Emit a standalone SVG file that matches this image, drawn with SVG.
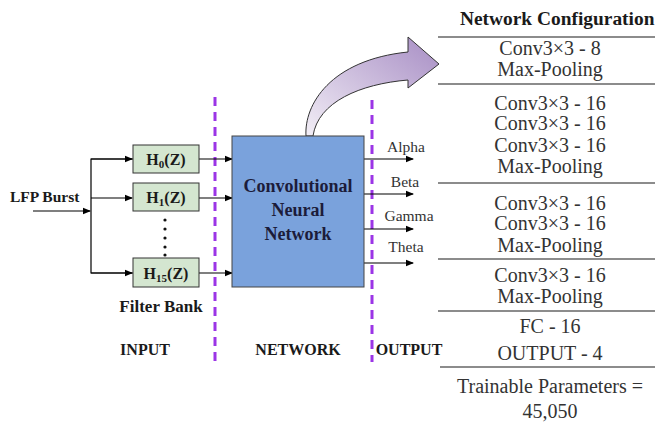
<svg xmlns="http://www.w3.org/2000/svg" width="655" height="424" viewBox="0 0 655 424">
<defs>
<marker id="ah" markerWidth="8" markerHeight="8" refX="7" refY="4" orient="auto" markerUnits="userSpaceOnUse">
<path d="M0,0.8 L8,4 L0,7.2 Z" fill="#000"/>
</marker>
<linearGradient id="pg" x1="0" y1="1" x2="1" y2="0">
<stop offset="0" stop-color="#f2eef6"/>
<stop offset="1" stop-color="#a78dc4"/>
</linearGradient>
<style>
text{font-family:"Liberation Serif","DejaVu Serif","Noto Serif",serif}
.b{font-weight:bold;fill:#1a1a1a}
.r{fill:#333}
.ln{stroke:#000;stroke-width:1.2;fill:none}
.tl{stroke:#666;stroke-width:1.5}
.dash{stroke:#9b35e6;stroke-width:3;stroke-dasharray:9,6}
.fb{fill:#d4e6d0;stroke:#333;stroke-width:1}
</style>
</defs>
<rect width="655" height="424" fill="#fff"/>

<g id="dividers">
<line class="dash" x1="215" y1="97" x2="215" y2="362"/>
<line class="dash" x1="372" y1="100" x2="372" y2="362"/>
</g>

<g id="connectors">
<line class="ln" x1="33" y1="211" x2="90" y2="211" marker-end="url(#ah)"/>
<polyline class="ln" points="133,159 91,159 91,273 133,273"/>
<line class="ln" x1="91" y1="159" x2="132" y2="159" marker-end="url(#ah)"/>
<line class="ln" x1="91" y1="198" x2="132" y2="198" marker-end="url(#ah)"/>
<line class="ln" x1="91" y1="273" x2="132" y2="273" marker-end="url(#ah)"/>
<line class="ln" x1="199" y1="159" x2="232" y2="159" marker-end="url(#ah)"/>
<line class="ln" x1="199" y1="198" x2="232" y2="198" marker-end="url(#ah)"/>
<line class="ln" x1="199" y1="273" x2="232" y2="273" marker-end="url(#ah)"/>
<line class="ln" x1="364" y1="159" x2="413" y2="159" marker-end="url(#ah)"/>
<line class="ln" x1="364" y1="194" x2="413" y2="194" marker-end="url(#ah)"/>
<line class="ln" x1="364" y1="229" x2="413" y2="229" marker-end="url(#ah)"/>
<line class="ln" x1="364" y1="263" x2="413" y2="263" marker-end="url(#ah)"/>
<path d="M306,136 C304,105 330,60 408,52 L408,37 L439,64 L408,88 L408,80 C360,84 318,102 313,136 Z" fill="url(#pg)" stroke="#333" stroke-width="1"/>
</g>

<g id="input">
<text class="b" x="10" y="202" font-size="15.5">LFP Burst</text>
</g>

<g id="h0">
<rect class="fb" x="133" y="145" width="66" height="28"/>
<text class="b" x="166" y="165" font-size="16" text-anchor="middle">H<tspan font-size="11" dy="3">0</tspan><tspan dy="-3">(Z)</tspan></text>
</g>
<g id="h1">
<rect class="fb" x="133" y="183" width="66" height="28"/>
<text class="b" x="166" y="203" font-size="16" text-anchor="middle">H<tspan font-size="11" dy="3">1</tspan><tspan dy="-3">(Z)</tspan></text>
</g>
<g id="dots">
<circle cx="165" cy="220" r="1.6" fill="#111"/>
<circle cx="165" cy="229" r="1.6" fill="#111"/>
<circle cx="165" cy="238" r="1.6" fill="#111"/>
<circle cx="165" cy="247" r="1.6" fill="#111"/>
<circle cx="165" cy="255" r="1.6" fill="#111"/>
</g>
<g id="h15">
<rect class="fb" x="133" y="258" width="66" height="29"/>
<text class="b" x="166" y="279" font-size="16" text-anchor="middle">H<tspan font-size="11" dy="3">15</tspan><tspan dy="-3">(Z)</tspan></text>
</g>

<g id="cnn">
<rect x="232" y="136" width="132" height="151" fill="#7aa2dc" stroke="#444" stroke-width="1"/>
<text class="b" x="298" y="192" font-size="18" text-anchor="middle" style="fill:#1c1c3a">Convolutional</text>
<text class="b" x="298" y="216" font-size="18" text-anchor="middle" style="fill:#1c1c3a">Neural</text>
<text class="b" x="298" y="240" font-size="18" text-anchor="middle" style="fill:#1c1c3a">Network</text>
</g>

<g id="outputs">
<text class="r" x="406" y="152" font-size="15.5" text-anchor="middle">Alpha</text>
<text class="r" x="405" y="187" font-size="15.5" text-anchor="middle">Beta</text>
<text class="r" x="409" y="221" font-size="15.5" text-anchor="middle">Gamma</text>
<text class="r" x="406" y="252" font-size="15.5" text-anchor="middle">Theta</text>
</g>

<g id="labels">
<text class="b" x="161" y="312" font-size="17" text-anchor="middle">Filter Bank</text>
<text class="b" x="145" y="355" font-size="16" text-anchor="middle">INPUT</text>
<text class="b" x="298" y="355" font-size="16" text-anchor="middle">NETWORK</text>
<text class="b" x="409" y="355" font-size="16" text-anchor="middle">OUTPUT</text>
</g>

<g id="table">
<text class="b" x="460" y="25" font-size="19.4">Network Configuration</text>
<line class="tl" x1="438" y1="37" x2="655" y2="37"/>
<line class="tl" x1="438" y1="84" x2="655" y2="84"/>
<line class="tl" x1="438" y1="183" x2="655" y2="183"/>
<line class="tl" x1="438" y1="259" x2="655" y2="259"/>
<line class="tl" x1="438" y1="311" x2="655" y2="311"/>
<line class="tl" x1="440" y1="367" x2="655" y2="367"/>
<g font-size="20" text-anchor="middle">
<text class="r" x="550" y="55">Conv3×3 - 8</text>
<text class="r" x="550" y="76">Max-Pooling</text>
<text class="r" x="550" y="110">Conv3×3 - 16</text>
<text class="r" x="550" y="130">Conv3×3 - 16</text>
<text class="r" x="550" y="152">Conv3×3 - 16</text>
<text class="r" x="550" y="173">Max-Pooling</text>
<text class="r" x="550" y="210">Conv3×3 - 16</text>
<text class="r" x="550" y="230">Conv3×3 - 16</text>
<text class="r" x="550" y="252">Max-Pooling</text>
<text class="r" x="550" y="282">Conv3×3 - 16</text>
<text class="r" x="550" y="303">Max-Pooling</text>
<text class="r" x="550" y="333">FC - 16</text>
<text class="r" x="550" y="360">OUTPUT - 4</text>
<text class="r" x="550" y="393">Trainable Parameters =</text>
<text class="r" x="550" y="418">45,050</text>
</g>
</g>
</svg>
